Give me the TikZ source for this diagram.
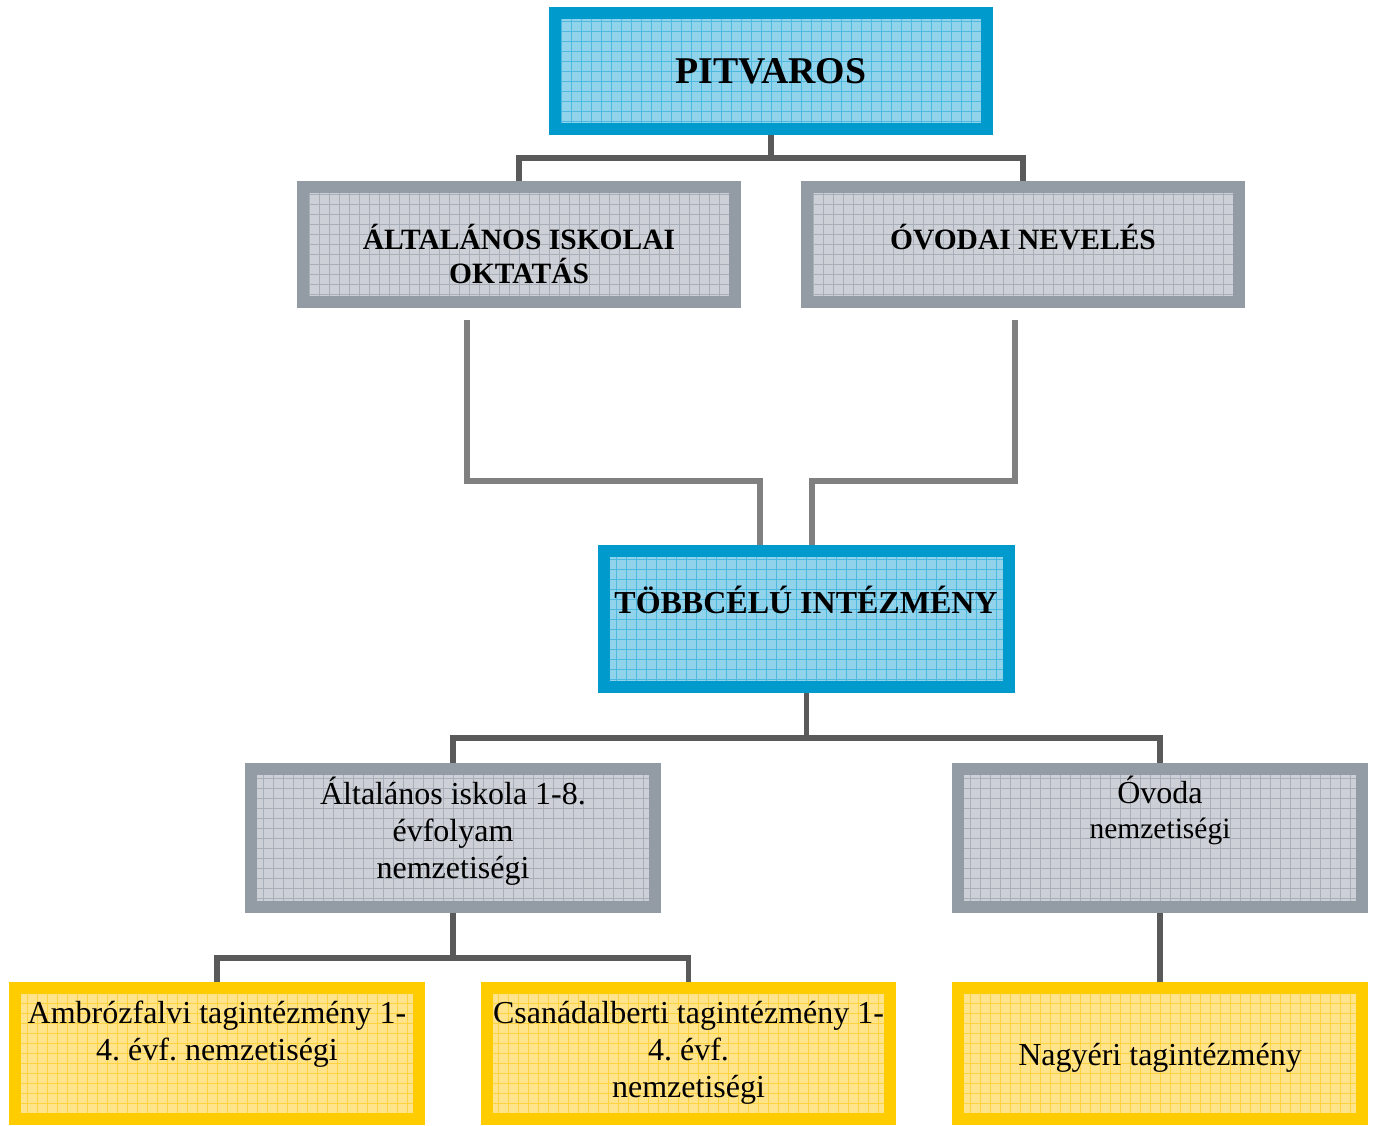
\documentclass[tikz,border=0pt]{standalone}
\usepackage{fontspec}
\setmainfont{Liberation Serif}
\frenchspacing
\definecolor{blueborder}{HTML}{009ACD}
\definecolor{bluefill}{HTML}{92D3EC}
\definecolor{bluegrid}{HTML}{4DB8E0}
\definecolor{greyborder}{HTML}{939BA4}
\definecolor{greyfill}{HTML}{CDD1D7}
\definecolor{greygrid}{HTML}{A8AFB8}
\definecolor{yellowborder}{HTML}{FFCC00}
\definecolor{yellowfill}{HTML}{FFE48C}
\definecolor{yellowgrid}{HTML}{FFD23F}
\definecolor{conndark}{HTML}{5A5A5A}
\definecolor{connlight}{HTML}{808080}
\newcommand\hstrut{\rule{0pt}{0.9em}}
\begin{document}
\begin{tikzpicture}[x=1pt,y=-1pt,
  box/.style={rectangle, line width=12pt, inner sep=0pt, outer sep=6pt},
  bluebox/.style={box, draw=blueborder, fill=bluefill,
    path picture={\draw[bluegrid, line width=0.9pt, step=10pt] (path picture bounding box.south west) grid (path picture bounding box.north east);}},
  greybox/.style={box, draw=greyborder, fill=greyfill,
    path picture={\draw[greygrid, line width=0.9pt, step=10pt] (path picture bounding box.south west) grid (path picture bounding box.north east);}},
  yellowbox/.style={box, draw=yellowborder, fill=yellowfill,
    path picture={\draw[yellowgrid, line width=0.9pt, step=10pt] (path picture bounding box.south west) grid (path picture bounding box.north east);}},
  txt/.style={anchor=north, align=center, inner sep=0pt, text=black},
  regtxt/.style={txt, font=\fontsize{32}{37}\selectfont},
  boldtxt/.style={txt, font=\bfseries\fontsize{29.5}{34}\selectfont},
  conn/.style={draw=conndark, line width=5.5pt},
  connb/.style={draw=connlight, line width=5.5pt}
]
\useasboundingbox (0,0) rectangle (1377,1126);

% boxes
\node[bluebox, minimum width=432pt, minimum height=116pt] (pit) at (771,71) {};
\node[greybox, minimum width=432pt, minimum height=115pt] (aok) at (519,244.5) {};
\node[greybox, minimum width=432pt, minimum height=115pt] (ovn) at (1023,244.5) {};
\node[bluebox, minimum width=405pt, minimum height=136pt] (tob) at (806.5,619) {};
\node[greybox, minimum width=404pt, minimum height=138pt] (ai) at (453,838) {};
\node[greybox, minimum width=404pt, minimum height=138pt] (ov) at (1160,838) {};
\node[yellowbox, minimum width=404pt, minimum height=131pt] (amb) at (217,1053.5) {};
\node[yellowbox, minimum width=403pt, minimum height=131pt] (csa) at (688.5,1053.5) {};
\node[yellowbox, minimum width=404pt, minimum height=131pt] (nagy) at (1160,1053.5) {};

% texts
\node[txt, font=\bfseries\fontsize{37.8}{42}\selectfont] (tpit) at (771,49) {\hstrut PITVAROS};
\node[boldtxt] (taok) at (519,222.5) {\hstrut ÁLTALÁNOS ISKOLAI\\OKTATÁS};
\node[boldtxt] (tovn) at (1023,222.5) {\hstrut ÓVODAI NEVELÉS};
\node[txt, font=\bfseries\fontsize{32}{37}\selectfont] (ttob) at (806,584.2) {\hstrut TÖBBCÉLÚ INTÉZMÉNY};
\node[regtxt] (tai) at (453,775.2) {\hstrut Általános iskola 1-8.\\évfolyam\\nemzetiségi};
\node[regtxt] (tov) at (1160,774.2) {\hstrut Óvoda\\[-2pt]{\fontsize{29.5}{35}\selectfont nemzetiségi}};
\node[regtxt] (tamb) at (217,994.2) {\hstrut Ambrózfalvi tagintézmény 1-\\4. évf. nemzetiségi};
\node[regtxt] (tcsa) at (688.5,994.2) {\hstrut Csanádalberti tagintézmény 1-\\4. évf.\\nemzetiségi};
\node[regtxt] (tnagy) at (1160,1036.2) {\hstrut Nagyéri tagintézmény};

% connectors
\coordinate (j1) at (771,158);
\draw[conn] (aok.north) |- (j1) -| (ovn.north);
\draw[conn] (pit.south) -- (j1);

\coordinate (la) at (467,320);
\coordinate (lb) at (760,481);
\coordinate (ra) at (1015,320);
\coordinate (rb) at (812,481);
\draw[connb] (la) |- (lb) -- (lb |- tob.north);
\draw[connb] (ra) |- (rb) -- (rb |- tob.north);

\coordinate (j2) at (806.5,738);
\draw[conn] (ai.north) |- (j2) -| (ov.north);
\draw[conn] (tob.south) -- (j2);

\coordinate (j3) at (453,958);
\draw[conn] (amb.north) |- (j3) -| (csa.north);
\draw[conn] (ai.south) -- (j3);

\draw[conn] (ov.south) -- (nagy.north);
\end{tikzpicture}
\end{document}
